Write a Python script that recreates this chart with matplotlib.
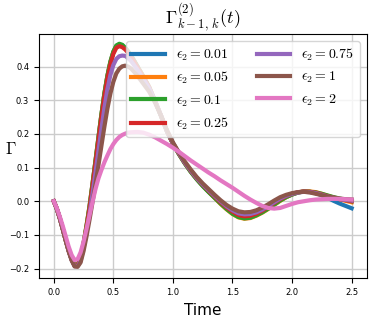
import numpy as np
import matplotlib
matplotlib.use("Agg")
import matplotlib.pyplot as plt

plt.rcParams['mathtext.fontset'] = 'cm'

# time grid: 0.025 steps up to 0.65, then 0.05 steps
t = [0.000, 0.025, 0.050, 0.075, 0.100, 0.125, 0.150, 0.175, 0.200, 0.225,
     0.250, 0.275, 0.300, 0.325, 0.350, 0.375, 0.400, 0.425, 0.450, 0.475,
     0.500, 0.525, 0.550, 0.575, 0.600, 0.625, 0.650,
     0.70, 0.75, 0.80, 0.85, 0.90, 0.95, 1.00, 1.05, 1.10, 1.15, 1.20, 1.25,
     1.30, 1.35, 1.40, 1.45, 1.50, 1.55, 1.60, 1.65, 1.70, 1.75, 1.80, 1.85,
     1.90, 1.95, 2.00, 2.05, 2.10, 2.15, 2.20, 2.25, 2.30, 2.35, 2.40, 2.45, 2.50]

eps_labels = ['0.01', '0.05', '0.1', '0.25', '0.75', '1', '2']

g_001 = [0.000, -0.022, -0.050, -0.082, -0.115, -0.146, -0.172, -0.190, -0.189, -0.168,
         -0.125, -0.072, -0.015, 0.052, 0.120, 0.190, 0.258, 0.320, 0.372, 0.413,
         0.443, 0.461, 0.466, 0.463, 0.455, 0.444, 0.432,
         0.402, 0.372, 0.340, 0.298, 0.254, 0.208, 0.172, 0.141, 0.113, 0.088, 0.066, 0.046,
         0.028, 0.011, -0.006, -0.022, -0.036, -0.046, -0.050, -0.048, -0.041, -0.032, -0.021, -0.009,
         0.003, 0.013, 0.020, 0.026, 0.029, 0.028, 0.024, 0.018, 0.010, 0.001, -0.007, -0.014, -0.021]
g_005 = [0.000, -0.022, -0.050, -0.082, -0.115, -0.146, -0.172, -0.190, -0.189, -0.168,
         -0.125, -0.072, -0.015, 0.052, 0.120, 0.190, 0.258, 0.320, 0.372, 0.413,
         0.443, 0.461, 0.466, 0.463, 0.455, 0.444, 0.432,
         0.402, 0.372, 0.340, 0.298, 0.254, 0.208, 0.172, 0.141, 0.113, 0.088, 0.066, 0.046,
         0.028, 0.010, -0.008, -0.024, -0.038, -0.048, -0.052, -0.050, -0.043, -0.034, -0.023, -0.011,
         0.001, 0.012, 0.020, 0.026, 0.029, 0.029, 0.027, 0.022, 0.016, 0.011, 0.006, 0.001, -0.003]
g_01 = [0.000, -0.022, -0.050, -0.082, -0.116, -0.147, -0.173, -0.191, -0.190, -0.169,
        -0.127, -0.074, -0.017, 0.050, 0.119, 0.189, 0.258, 0.321, 0.373, 0.415,
        0.445, 0.463, 0.468, 0.465, 0.456, 0.445, 0.432,
        0.402, 0.371, 0.339, 0.297, 0.253, 0.207, 0.171, 0.140, 0.112, 0.087, 0.065, 0.045,
        0.027, 0.010, -0.007, -0.023, -0.037, -0.047, -0.051, -0.049, -0.042, -0.033, -0.022, -0.010,
        0.002, 0.012, 0.020, 0.026, 0.029, 0.028, 0.026, 0.022, 0.017, 0.012, 0.008, 0.004, 0.000]
g_025 = [0.000, -0.022, -0.050, -0.082, -0.116, -0.148, -0.174, -0.192, -0.191, -0.172,
         -0.130, -0.078, -0.022, 0.044, 0.112, 0.181, 0.250, 0.312, 0.365, 0.407,
         0.438, 0.456, 0.461, 0.458, 0.451, 0.441, 0.429,
         0.400, 0.370, 0.339, 0.297, 0.254, 0.208, 0.172, 0.142, 0.114, 0.090, 0.068, 0.049,
         0.031, 0.014, -0.003, -0.018, -0.031, -0.041, -0.045, -0.043, -0.037, -0.028, -0.017, -0.005,
         0.006, 0.015, 0.022, 0.027, 0.029, 0.028, 0.025, 0.020, 0.015, 0.010, 0.006, 0.003, 0.000]
g_075 = [0.000, -0.022, -0.050, -0.082, -0.116, -0.148, -0.175, -0.193, -0.193, -0.178,
         -0.140, -0.092, -0.038, 0.022, 0.085, 0.150, 0.215, 0.278, 0.333, 0.375,
         0.405, 0.423, 0.431, 0.433, 0.432, 0.425, 0.416,
         0.392, 0.364, 0.336, 0.297, 0.255, 0.209, 0.173, 0.143, 0.115, 0.091, 0.069, 0.050,
         0.033, 0.016, 0.000, -0.015, -0.027, -0.036, -0.039, -0.038, -0.033, -0.025, -0.014, -0.003,
         0.008, 0.016, 0.022, 0.026, 0.028, 0.027, 0.024, 0.019, 0.014, 0.010, 0.006, 0.004, 0.002]
g_1 = [0.000, -0.022, -0.050, -0.083, -0.117, -0.149, -0.176, -0.194, -0.195, -0.182,
       -0.148, -0.104, -0.055, -0.003, 0.050, 0.107, 0.165, 0.222, 0.275, 0.320,
       0.355, 0.380, 0.394, 0.401, 0.403, 0.400, 0.394,
       0.374, 0.350, 0.326, 0.293, 0.255, 0.211, 0.175, 0.145, 0.118, 0.094, 0.072, 0.053,
       0.036, 0.019, 0.003, -0.011, -0.022, -0.030, -0.033, -0.032, -0.027, -0.019, -0.009, 0.002,
       0.012, 0.019, 0.024, 0.027, 0.028, 0.026, 0.022, 0.018, 0.014, 0.011, 0.008, 0.006, 0.005]
g_2 = [0.000, -0.020, -0.045, -0.073, -0.104, -0.135, -0.160, -0.175, -0.172, -0.152,
       -0.120, -0.082, -0.042, -0.002, 0.036, 0.068, 0.093, 0.116, 0.136, 0.155,
       0.170, 0.182, 0.191, 0.197, 0.201, 0.204, 0.205,
       0.206, 0.204, 0.198, 0.190, 0.180, 0.170, 0.159, 0.147, 0.134, 0.121, 0.109, 0.097,
       0.085, 0.074, 0.062, 0.051, 0.040, 0.028, 0.016, 0.005, -0.005, -0.014, -0.020, -0.022,
       -0.020, -0.014, -0.008, -0.003, 0.000, 0.003, 0.005, 0.006, 0.007, 0.007, 0.007, 0.006, 0.005]

series = [g_001, g_005, g_01, g_025, g_075, g_1, g_2]

fig = plt.figure(figsize=(3.74, 3.18), dpi=100)
ax = fig.add_axes([0.104, 0.126, 0.876, 0.767])

for lab, vals in zip(eps_labels, series):
    ax.plot(t, vals, linewidth=3, label=r'$\epsilon_2 = %s$' % lab)

ax.set_ylim(-0.228, 0.497)
ax.grid(True, color='#cccccc', linewidth=1)
ax.set_title(r'$\Gamma^{(2)}_{k-1,\,k}(t)$', fontsize=13)
ax.set_xlabel('Time', fontsize=11)
ax.xaxis.set_label_coords(0.5, -0.102)
ax.set_ylabel(r'$\Gamma$', fontsize=12, rotation=0, va='center', ha='center')
ax.yaxis.set_label_coords(-0.085, 0.53)
ax.tick_params(labelsize=6)
ax.legend(loc='upper right', ncol=2, fontsize=10, handlelength=2.4,
          columnspacing=2.0)

fig.savefig('out.png', dpi=100)
